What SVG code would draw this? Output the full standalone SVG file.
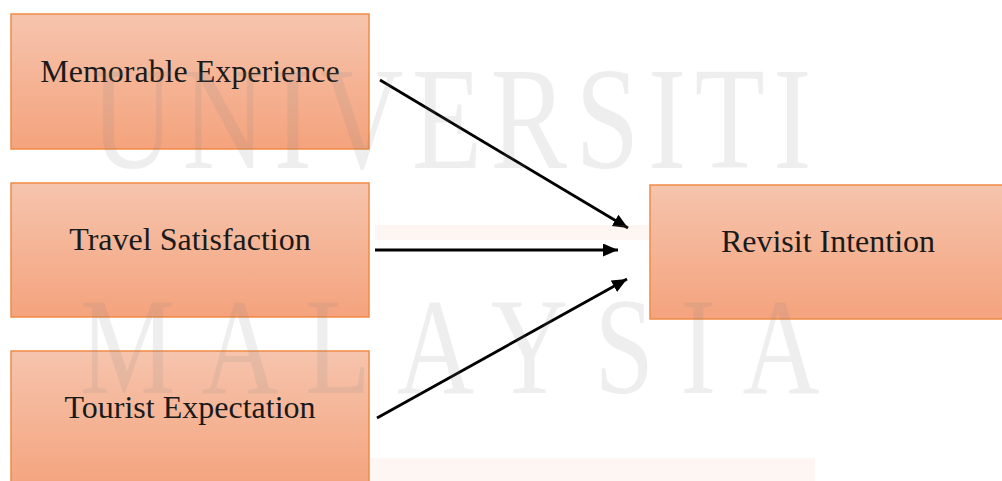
<svg xmlns="http://www.w3.org/2000/svg" width="1002" height="481" viewBox="0 0 1002 481">
  <style>
    .box { fill: url(#boxGrad); stroke: #f08a45; stroke-width: 1.5; }
    .label { font-family: "Liberation Serif", "Times New Roman", serif; font-size: 32px; fill: #1a1a1a; text-anchor: middle; }
    .wm { font-family: "Liberation Serif", "Times New Roman", serif; fill: #8a8a8a; fill-opacity: 0.14; }
    .conn { stroke: #000; stroke-width: 2.8; fill: none; marker-end: url(#arrow); }
  </style>
  <defs>
    <linearGradient id="boxGrad" x1="0" y1="0" x2="0" y2="1">
      <stop offset="0" stop-color="#f6c4ad"/>
      <stop offset="1" stop-color="#f4a37d"/>
    </linearGradient>
    <marker id="arrow" markerUnits="userSpaceOnUse" markerWidth="16" markerHeight="14" refX="15" refY="6.5" orient="auto">
      <path d="M0,0 L15,6.5 L0,13 z" fill="#000"/>
    </marker>
  </defs>
  <rect width="1002" height="481" fill="#ffffff"/>

  <g id="node-memorable">
    <rect class="box" x="11" y="14" width="358" height="135"/>
    <text class="label" x="190" y="82">Memorable Experience</text>
  </g>
  <g id="node-travel">
    <rect class="box" x="11" y="183" width="358" height="134"/>
    <text class="label" x="190" y="250">Travel Satisfaction</text>
  </g>
  <g id="node-tourist">
    <rect class="box" x="11" y="351" width="358" height="140"/>
    <text class="label" x="190" y="418">Tourist Expectation</text>
  </g>
  <g id="node-revisit">
    <rect class="box" x="650" y="185" width="362" height="134"/>
    <text class="label" x="828" y="252">Revisit Intention</text>
  </g>

  <g id="connectors">
    <line class="conn" x1="380" y1="80" x2="628" y2="228"/>
    <line class="conn" x1="375" y1="250" x2="618" y2="250"/>
    <line class="conn" x1="377" y1="418" x2="627" y2="279"/>
  </g>

  <g id="watermark">
    <rect x="375" y="225" width="275" height="15" fill="#f4a37d" fill-opacity="0.1"/>
    <rect x="80" y="458" width="735" height="23" fill="#f4a37d" fill-opacity="0.1"/>
    <text class="wm" transform="translate(91,168) scale(0.78,1)" font-size="147" letter-spacing="11">UNIVERSITI</text>
    <text class="wm" transform="translate(80,393) scale(0.78,1)" font-size="137" letter-spacing="34">MALAYSIA</text>
  </g>
</svg>
